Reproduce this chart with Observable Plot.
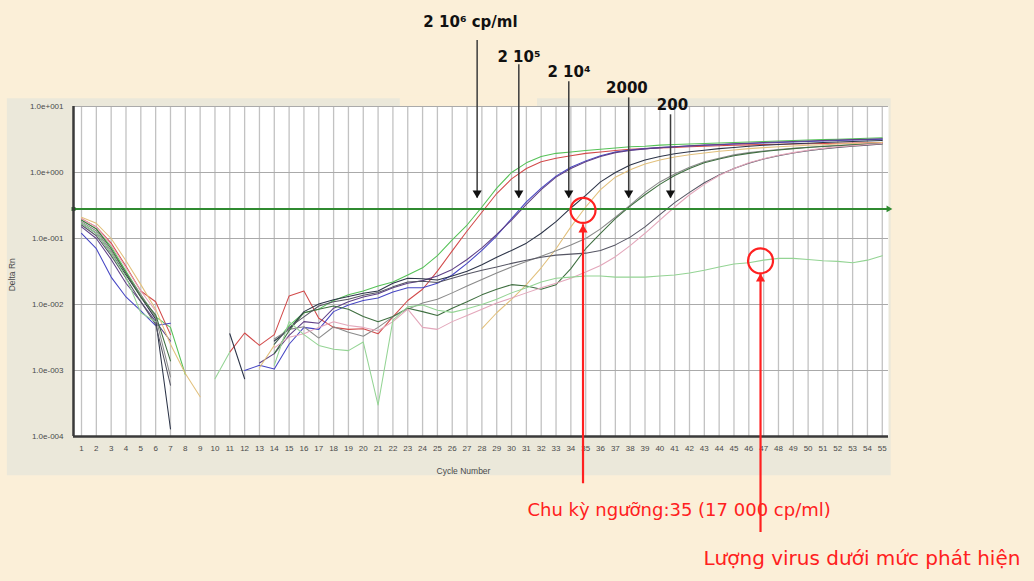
<!DOCTYPE html>
<html><head><meta charset="utf-8">
<script src="https://cdn.jsdelivr.net/npm/d3@7"></script>
<script src="https://cdn.jsdelivr.net/npm/@observablehq/plot@0.6"></script>
<style>
html,body{margin:0;padding:0;background:#fbefd8;overflow:hidden;}
#chart svg{display:block;}
</style></head><body><div id="chart"></div>
<script>
const cycles = [1,2,3,4,5,6,7,8,9,10,11,12,13,14,15,16,17,18,19,20,21,22,23,24,25,26,27,28,29,30,31,32,33,34,35,36,37,38,39,40,41,42,43,44,45,46,47,48,49,50,51,52,53,54,55];

const seriesNames = ["2e6 a","2e6 b","2e5 a","2e5 b","2e4 a","2e4 b","2000 a","2000 b","200 a","200 b","neg"];
const seriesColors = ["#55c257","#d24a4a","#4646c4","#5e3f86","#2c3448","#e2c07c","#8a8a8a","#3f6f40","#555563","#e3a6ba","#94d494"];

const s2e6a = [0.19,0.14,0.075,0.032,0.014,0.0065,0.0045,0.00087,null,null,null,null,null,0.0025,0.0048,0.0075,0.0085,0.0115,0.014,0.016,0.019,0.022,0.028,0.036,0.055,0.095,0.16,0.3,0.58,1.0,1.4,1.75,1.95,2.05,2.15,2.25,2.35,2.45,2.5,2.6,2.65,2.7,2.75,2.8,2.85,2.9,2.95,3.0,3.05,3.1,3.15,3.2,3.25,3.3,3.35];
const s2e6b = [0.2,0.15,0.085,0.038,0.016,0.011,0.0035,null,null,null,0.0019,0.0037,0.0024,0.0035,0.0135,0.016,0.0062,0.0045,0.0042,0.0043,0.0036,0.0065,0.0115,0.017,0.032,0.065,0.13,0.25,0.48,0.8,1.15,1.45,1.65,1.8,1.95,2.05,2.15,2.25,2.3,2.35,2.4,2.45,2.5,2.55,2.6,2.62,2.65,2.68,2.7,2.72,2.75,2.78,2.8,2.82,2.85];
const s2e5a = [0.12,0.07,0.026,0.013,0.008,0.0048,0.0052,null,null,null,null,0.001,0.0012,0.00105,0.0025,0.0045,0.0042,0.0078,0.0098,0.0115,0.0125,0.0155,0.018,0.018,0.021,0.028,0.042,0.066,0.11,0.2,0.36,0.58,0.88,1.2,1.5,1.8,2.05,2.2,2.3,2.38,2.45,2.52,2.58,2.64,2.7,2.75,2.8,2.85,2.9,2.95,3.0,3.05,3.1,3.15,3.2];
const s2e5b = [0.15,0.1,0.048,0.021,0.011,0.0055,0.0028,null,null,null,null,null,0.0013,0.0018,0.0034,0.0055,0.0052,0.0088,0.011,0.013,0.0145,0.018,0.021,0.023,0.027,0.034,0.048,0.072,0.115,0.19,0.33,0.55,0.85,1.15,1.45,1.75,2.0,2.15,2.28,2.38,2.46,2.54,2.6,2.66,2.72,2.78,2.84,2.9,2.95,3.0,3.05,3.1,3.15,3.2,3.25];
const s2e4a = [0.17,0.12,0.06,0.028,0.013,0.006,0.00013,null,null,null,0.0036,0.00075,null,0.0028,0.0042,0.0078,0.0102,0.0118,0.0132,0.0148,0.016,0.021,0.025,0.0245,0.0235,0.027,0.032,0.04,0.052,0.066,0.085,0.12,0.18,0.29,0.45,0.72,1.0,1.3,1.55,1.75,1.92,2.06,2.18,2.3,2.4,2.5,2.58,2.65,2.72,2.78,2.84,2.9,2.95,3.0,3.05];
const s2e4b = [0.21,0.17,0.1,0.046,0.02,0.0085,0.0025,0.0009,0.0004,null,null,null,0.0011,0.0024,null,null,null,null,null,null,null,null,null,null,null,null,null,0.0043,0.0075,0.012,0.02,0.036,0.07,0.15,0.3,0.55,0.85,1.1,1.35,1.55,1.72,1.86,1.98,2.1,2.2,2.3,2.38,2.45,2.52,2.58,2.64,2.7,2.75,2.8,2.85];
const s2000a = [0.18,0.13,0.065,0.03,0.014,0.0065,0.0008,null,null,null,null,null,null,0.003,0.0042,0.0046,0.0031,0.0046,0.0038,0.0033,0.0045,0.0065,0.0085,0.0105,0.012,0.015,0.019,0.024,0.03,0.037,0.045,0.054,0.065,0.08,0.1,0.14,0.21,0.32,0.5,0.72,0.95,1.2,1.45,1.65,1.85,2.0,2.12,2.22,2.32,2.42,2.5,2.57,2.63,2.7,2.75];
const s2000b = [0.19,0.14,0.07,0.03,0.013,0.007,0.0014,null,null,null,null,null,null,0.0018,0.004,0.0075,0.0085,0.0095,0.0085,0.0066,0.0055,0.0066,0.0088,0.0078,0.0068,0.0088,0.011,0.014,0.017,0.02,0.019,0.017,0.02,0.035,0.07,0.12,0.2,0.31,0.46,0.66,0.9,1.15,1.4,1.6,1.8,1.95,2.08,2.2,2.3,2.4,2.48,2.55,2.62,2.68,2.74];
const s200a = [0.16,0.11,0.055,0.025,0.011,0.005,0.0006,null,null,null,null,null,null,0.0025,0.0045,0.0065,0.0095,0.011,0.012,0.0138,0.0152,0.0185,0.022,0.0225,0.0215,0.025,0.029,0.033,0.037,0.042,0.047,0.052,0.056,0.058,0.06,0.066,0.08,0.105,0.15,0.23,0.35,0.5,0.7,0.92,1.15,1.38,1.6,1.8,1.98,2.14,2.28,2.4,2.5,2.6,2.7];
const s200b = [0.2,0.15,0.08,0.036,0.016,0.008,null,null,null,null,null,null,null,0.0022,0.0032,0.0036,0.0045,0.0055,0.0048,0.0045,0.004,0.0055,0.0085,0.0045,0.0042,0.0055,0.0068,0.0085,0.0105,0.0125,0.015,0.018,0.021,0.025,0.031,0.039,0.053,0.078,0.12,0.19,0.3,0.46,0.66,0.9,1.15,1.4,1.62,1.82,2.0,2.18,2.32,2.45,2.55,2.65,2.75];
const sNeg = [0.17,0.12,0.06,0.026,0.0075,0.0055,null,null,null,0.00075,0.0019,null,null,0.0012,0.0055,0.0035,0.0024,0.0021,0.002,0.0027,0.0003,0.0058,0.0092,0.0098,0.0082,0.0076,0.0086,0.01,0.012,0.015,0.018,0.022,0.025,0.026,0.027,0.027,0.026,0.026,0.026,0.027,0.028,0.03,0.033,0.037,0.041,0.043,0.047,0.05,0.05,0.048,0.046,0.045,0.043,0.047,0.055];

const seriesValues = [s2e6a,s2e6b,s2e5a,s2e5b,s2e4a,s2e4b,s2000a,s2000b,s200a,s200b,sNeg];

const threshold = 0.28;
const yTickValues = [1e-4,1e-3,1e-2,1e-1,1,10];
const yTickLabels = ["1.0e-004","1.0e-003","1.0e-002","1.0e-001","1.0e+000","1.0e+001"];
const xDomain = [0.46, 55.42];
const yDomain = [1e-4, 10];

// annotations (data coordinates)
const arrowLabels = ["2 10\u2076 cp/ml","2 10\u2075","2 10\u2074","2000","200"];
const arrowCycles = [27.68,30.49,33.86,37.9,40.72];
const arrowTops = [100,42.8,23.7,13.5,7.48];
const arrowTip = 0.41;
const labelCycles = [27.23,30.5,33.87,37.78,40.85];
const labelValues = [190,56.6,33.6,18.9,10.6];

const circleCycles = [34.82,46.79];
const circleValues = [0.267,0.0459];
const redArrowBottoms = [1.92e-5,3.51e-6];
const redArrowTips = [0.161,0.0292];
const redTexts = ["Chu kỳ ngưỡng:35 (17 000 cp/ml)","Lượng virus dưới mức phát hiện"];
const redTextCycles = [31.07,42.94];
const redTextValues = [7.6e-6,1.4e-6];
const redTextSizes = [18,20];

const long = seriesNames.flatMap((name,k) => cycles.map((c,i) => ({cycle:c, value:seriesValues[k][i], series:name})));
const arrows = arrowLabels.map((t,i) => ({text:t, x:arrowCycles[i], top:arrowTops[i], tip:arrowTip, lx:labelCycles[i], ly:labelValues[i]}));
const reds = circleCycles.map((c,i) => ({cx:c, cy:circleValues[i], bottom:redArrowBottoms[i], tip:redArrowTips[i], text:redTexts[i], tx:redTextCycles[i], ty:redTextValues[i], size:redTextSizes[i]}));

const plot = Plot.plot({
  width: 1034, height: 581,
  marginLeft: 73, marginRight: 146, marginTop: 106, marginBottom: 145,
  style: {background: "transparent", fontFamily: "Liberation Sans"},
  x: {type: "linear", domain: xDomain},
  y: {type: "log", domain: yDomain},
  color: {domain: seriesNames, range: seriesColors},
  marks: [
    Plot.rect([{x1:-4.0, x2:55.6, y1:2.54e-5, y2:13.1}], {x1:"x1", x2:"x2", y1:"y1", y2:"y2", fill:"#ebe8da"}),
    Plot.rect([{x1:22.5, x2:31.75, y1:10, y2:14.5}], {x1:"x1", x2:"x2", y1:"y1", y2:"y2", fill:"#fbefd8"}),
    Plot.frame({fill:"white", stroke:"none"}),
    Plot.ruleX(cycles, {stroke:"#c2c2c2", strokeWidth:1.3}),
    Plot.ruleY(yTickValues, {stroke:"#aaaaaa", strokeWidth:1.1}),
    Plot.line(long, {x:"cycle", y:"value", z:"series", stroke:"series", strokeWidth:1.05}),
    Plot.ruleY([threshold], {stroke:"#2f8a30", strokeWidth:2.2}),
    Plot.dot([threshold], {x:() => xDomain[0], y:d => d, symbol:"square", r:2.2, fill:"#1f5f20"}),
    Plot.dot([threshold], {x:() => xDomain[1], y:d => d, symbol:"triangle", rotate:90, r:2.5, fill:"#2f8a30"}),
    Plot.ruleX([xDomain[0]], {stroke:"#3a3a3a", strokeWidth:2.5}),
    Plot.ruleY([yDomain[0]], {stroke:"#3a3a3a", strokeWidth:2.5}),
    Plot.axisY({ticks: yTickValues, tickFormat: d => yTickLabels[yTickValues.indexOf(d)], tickSize:0, tickPadding:10, fontSize:8, fill:"#4a4a4a", label:null}),
    Plot.axisX({ticks: cycles, tickFormat: d => String(d), tickSize:0, tickPadding:9, fontSize:8, fill:"#4a4a4a", label:null}),
    Plot.text(["Cycle Number"], {x:() => 26.76, y:() => 3.0e-5, text:d => d, fontSize:8.5, fill:"#4a4a4a"}),
    Plot.text(["Delta Rn"], {x:() => -3.69, y:() => 0.0282, text:d => d, fontSize:8.5, rotate:-90, fill:"#4a4a4a"}),
    // black arrows
    Plot.ruleX(arrows, {x:"x", y1:"top", y2:"tip", stroke:"#3c3c3c", strokeWidth:1.5}),
    Plot.dot(arrows, {x:"x", y:"tip", symbol:"triangle", rotate:180, r:3.4, fill:"#111", dy:-5}),
    Plot.text(arrows, {x:"lx", y:"ly", text:"text", fontSize:15, fontWeight:"bold", fill:"#111", fontFamily:"DejaVu Sans"}),
    // red annotations
    Plot.dot(reds, {x:"cx", y:"cy", r:12.5, stroke:"#ff2020", strokeWidth:2.2, fill:"none"}),
    Plot.ruleX(reds, {x:"cx", y1:"bottom", y2:"tip", stroke:"#ff2020", strokeWidth:2.2}),
    Plot.dot(reds, {x:"cx", y:"tip", symbol:"triangle", r:3.4, fill:"#ff2020", dy:5}),
    Plot.text(reds, {x:"tx", y:"ty", text:"text", fontSize:d => d.size, textAnchor:"start", fill:"#ff2020", fontFamily:"DejaVu Sans"})
  ]
});
document.getElementById("chart").appendChild(plot);
</script></body></html>
